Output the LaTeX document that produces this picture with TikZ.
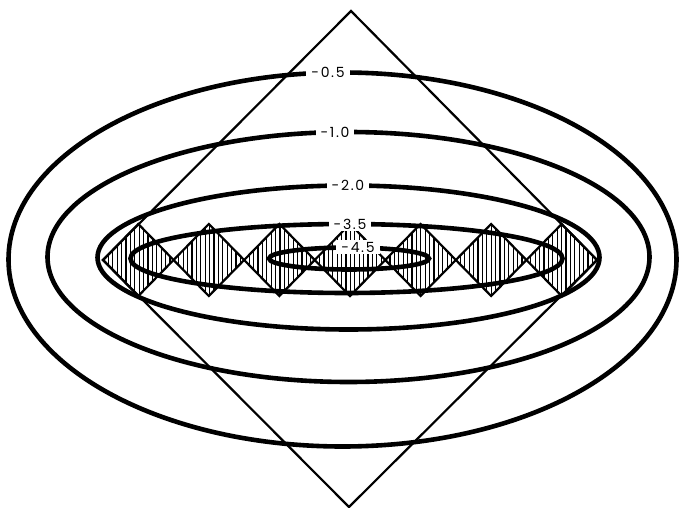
\documentclass[tikz,border=0pt]{standalone}
\usepackage{fontspec}
\newfontfamily\lblfont[LetterSpace=12]{Poppins}
\begin{document}
\begin{tikzpicture}[x=1pt,y=-1pt,
  contour/.style={line width=4.6pt},
  dline/.style={line width=2.2pt},
  hatchline/.style={line width=1.2pt},
  lab/.style={fill=white, inner xsep=5pt, inner ysep=1.5pt, font=\lblfont\fontsize{14}{14}\selectfont}]
\useasboundingbox[fill=white] (0,0) rectangle (680,508);
% hatching of the small diamonds
\begin{scope}
  \clip \foreach \i in {0,...,6} {
    ({103+70.57*\i},260) -- ({103+70.57*\i+35.29},224) -- ({103+70.57*(\i+1)},260) -- ({103+70.57*\i+35.29},296) -- cycle };
  \foreach \x in {104,108.4,...,598} \draw[hatchline] (\x,220) -- (\x,300);
\end{scope}
% outlines of the small diamonds
\foreach \i in {0,...,6} {
  \draw[dline, line join=miter] ({103+70.57*\i},260) -- ({103+70.57*\i+35.29},224) -- ({103+70.57*(\i+1)},260) -- ({103+70.57*\i+35.29},296) -- cycle;
}
% large diamond
\coordinate (top) at (351,11);
\coordinate (left) at (103,260);
\coordinate (bottom) at (349,507);
\coordinate (right) at (597,260);
\draw[dline] (top) -- (left) -- (bottom) -- (right) -- cycle;
% contours
\draw[contour] (342.5,259.5) ellipse [x radius=334pt, y radius=187pt];
\draw[contour] (348.5,257) ellipse [x radius=301pt, y radius=125pt];
\draw[contour] (348.5,257.5) ellipse [x radius=251pt, y radius=72pt];
\draw[contour] (346.5,258.5) ellipse [x radius=216pt, y radius=34.5pt];
\draw[contour] (349,258.5) ellipse [x radius=80pt, y radius=11pt];
% labels
\node[lab] (l05) at (328,72) {-0.5};
\node[lab] (l10) at (335,132) {-1.0};
\node[lab] (l20) at (348,185) {-2.0};
\node[lab] (l35) at (350,224) {-3.5};
\node[lab] (l45) at (358,247) {-4.5};
\end{tikzpicture}
\end{document}
